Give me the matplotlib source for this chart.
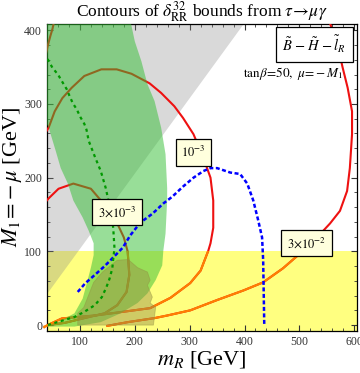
import numpy as np
import matplotlib
matplotlib.use("Agg")
import matplotlib.pyplot as plt
from matplotlib.patches import Rectangle, Polygon

plt.rcParams["font.family"] = ["Liberation Serif", "DejaVu Serif"]
plt.rcParams["mathtext.fontset"] = "stix"

# ---------------- Data ----------------
# red contours of the delta_RR bound, (m_R, M_1) in GeV
c1e3_m = [38, 43, 54, 68, 85, 108, 139, 167, 194, 227, 248, 272, 288, 307, 325, 338, 343, 343,
          338, 334, 320, 301, 265, 228, 218, 168, 127, 96, 67, 41, 35]
c1e3_M = [262, 268, 290, 308, 322, 338, 347, 347, 341, 328, 315, 297, 281, 259, 227, 200, 169, 132,
          111, 101, 74, 57, 37, 23, 22, 17, 13, 11, 9, 0, -3]

c1e3b_m = [38, 42, 46, 50, 53]
c1e3b_M = [368, 381, 392, 402, 412]

c3e3_m = [36, 43, 61, 88, 120, 143, 168, 180, 187, 190, 185, 168, 145, 108, 72, 41, 35]
c3e3_M = [166, 172, 185, 192, 185, 165, 138, 119, 100, 68, 45, 27, 16, 9.5, 3, 0, -2]

c3e2_m = [552, 556, 568, 579, 588, 596, 596, 592, 587, 574, 556, 541, 501, 470, 434, 398, 350,
          301, 259, 236, 187, 150]
c3e2_M = [415, 409, 385, 349, 322, 290, 259, 213, 182, 155, 138, 126, 97, 77, 58, 47, 34,
          20, 13, 9.5, 4, -1]

# blue dashed contour
blue_m = [96, 110, 127, 145, 161, 178, 192, 210, 232, 252, 268, 288, 307, 325, 338, 350, 374,
          392, 405, 416, 425, 432, 434, 436]
blue_M = [45, 57, 68, 80, 92, 105, 122, 139, 151, 165, 174, 188, 200, 209, 213, 213, 207,
          205, 192, 169, 142, 119, 88, 0]

# green dashed contour
gdash_m = [41, 50, 60, 67, 76, 81, 87, 94, 101, 108, 112, 116, 128, 138, 147, 152, 159, 161,
           163, 161, 159, 154, 148, 140, 127, 108, 90, 72, 54, 41]
gdash_M = [361, 349, 340, 331, 320, 311, 301, 293, 282, 273, 265, 250, 227, 209, 186, 169, 146, 128,
           104, 92, 77, 63, 51, 38, 27, 18, 11, 7, 3, 0]

# green allowed band
band_m = [20, 190, 200, 212, 223, 236, 248, 256, 259, 259, 256, 252, 250, 238, 223, 205, 174, 138,
          90, 36, 60, 90, 105, 114, 120, 125, 125, 116, 105, 88, 78, 65, 56, 43, 20]
band_M = [420, 420, 385, 358, 327, 304, 268, 232, 186, 169, 124, 101, 81, 61, 43, 30, 16, 4,
          -2, -2, 4, 16, 36, 61, 78, 95, 111, 128, 146, 169, 192, 213, 236, 268, 300]

# irregular olive region
blob_m = [96, 96, 107, 125, 141, 168, 188, 205, 223, 228, 223, 232, 228, 238, 234]
blob_M = [0, 16, 24, 58, 72, 88, 89, 78, 72, 61, 54, 38, 30, 24, 0]

# grey excluded region boundary (M_1 > m_R)
grey_m = [0, 0, 420, 400, 36]
grey_M = [38, 420, 420, 410, 38]

yellow_top = 100

labels = [r"$10^{-3}$", r"$3{\times}10^{-3}$", r"$3{\times}10^{-2}$"]
label_m = [307, 168, 513]
label_M = [234, 153, 111]

# ---------------- Plot ----------------
fig = plt.figure(figsize=(3.6, 3.73), dpi=100)
ax = fig.add_axes([0.1306, 0.1126, 0.861, 0.824])
ax.set_xlim(40, 605)
ax.set_ylim(-8, 409)

ax.add_patch(Rectangle((0, -50), 1000, yellow_top + 50, color="#FFFF80", lw=0, zorder=1))
ax.add_patch(Polygon(np.column_stack([grey_m, grey_M]), closed=True,
                     facecolor=(134/255, 134/255, 134/255), alpha=0.315, lw=0, zorder=2))

clip = Rectangle((0, -50), 1000, yellow_top + 50, transform=ax.transData)
for xs, ys in [(c1e3_m, c1e3_M), (c1e3b_m, c1e3b_M), (c3e3_m, c3e3_M), (c3e2_m, c3e2_M)]:
    ax.plot(xs, ys, color="#EE1111", lw=1.5, zorder=3, solid_joinstyle="round")
    ln, = ax.plot(xs, ys, color="#FF8000", lw=1.5, zorder=3.1, solid_joinstyle="round")
    ln.set_clip_path(clip)

ax.add_patch(Polygon(np.column_stack([band_m, band_M]), closed=True,
                     facecolor=(50/255, 190/255, 50/255), alpha=0.5, lw=0, zorder=4))
ax.add_patch(Polygon(np.column_stack([blob_m, blob_M]), closed=True,
                     facecolor=(150/255, 140/255, 70/255), alpha=0.45,
                     edgecolor="#8F8F40", lw=0.6, zorder=5))

ax.plot(blue_m, blue_M, color="#0000FF", lw=1.8, ls=(0, (1.6, 1.0)), zorder=6)
ax.plot(gdash_m, gdash_M, color="#009900", lw=1.6, ls=(0, (1.4, 1.6)), zorder=6)

for txt, xm, ym in zip(labels, label_m, label_M):
    ax.text(xm, ym, txt, fontsize=9, ha="center", va="center", zorder=7,
            bbox=dict(boxstyle="square,pad=0.45", facecolor="#FFFFDD", edgecolor="black", lw=0.9))

ax.text(527, 381, r"$\tilde{B}\,-\tilde{H}\,-\tilde{l}_R$", fontsize=10.5, ha="center", va="center",
        zorder=7, bbox=dict(boxstyle="square,pad=0.45", facecolor="white", edgecolor="black", lw=0.9))
ax.text(580, 342, r"$\mathrm{tan}\beta\!=\!50,\ \mu\!=\!-M_1$", fontsize=9.5, ha="right", va="center",
        zorder=7)

ax.set_title(r"Contours of $\delta^{32}_{\rm RR}$ bounds from $\tau\!\rightarrow\!\mu\gamma$",
             fontsize=12.5, pad=1.5)
ax.set_xlabel(r"$m_R$ [GeV]", fontsize=16, labelpad=1)
ax.set_ylabel(r"$M_1\!=\!-\mu$ [GeV]", fontsize=16, labelpad=0)

ax.set_xticks([100, 200, 300, 400, 500, 600])
ax.set_yticks([0, 100, 200, 300, 400])
ax.set_xticks(np.arange(40, 606, 20), minor=True)
ax.set_yticks(np.arange(0, 409, 20), minor=True)
ax.tick_params(which="both", direction="in", top=True, right=True, labelsize=8.5, colors="#333333")
ax.tick_params(which="major", length=4, width=0.8)
ax.tick_params(which="minor", length=2, width=0.6)
for s in ax.spines.values():
    s.set_linewidth(0.9)

fig.savefig("out.png", dpi=100)
